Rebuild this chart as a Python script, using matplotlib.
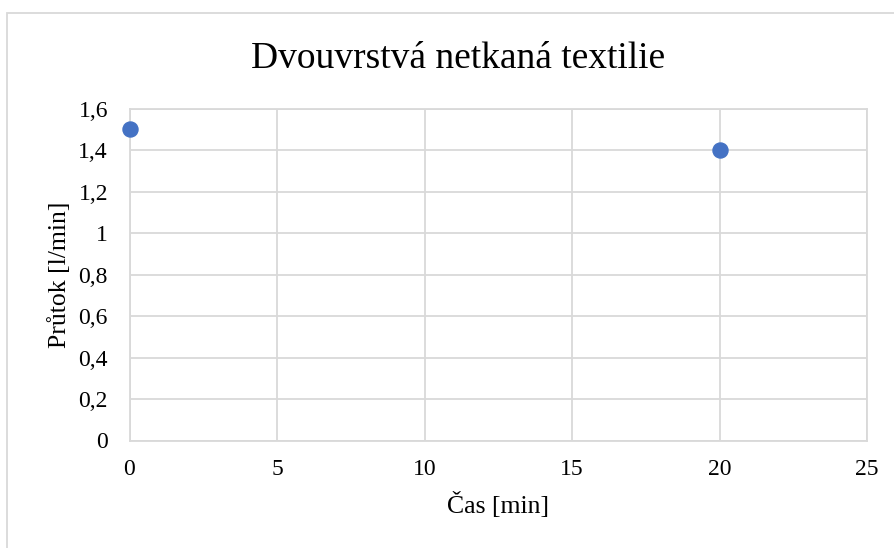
import matplotlib
matplotlib.use("Agg")
import matplotlib.pyplot as plt
from matplotlib.patches import Rectangle
from matplotlib.ticker import FuncFormatter

cas = [0, 20]
prutok = [1.5, 1.4]
x_ticks = [0, 5, 10, 15, 20, 25]
y_ticks = [0, 0.2, 0.4, 0.6, 0.8, 1.0, 1.2, 1.4, 1.6]
title = "Dvouvrstvá netkaná textilie"
xlabel = "Čas [min]"
ylabel = "Průtok [l/min]"

plt.rcParams['font.family'] = ['Liberation Serif', 'DejaVu Serif']

fig = plt.figure(figsize=(8.94, 5.48), dpi=100)
# outer chart border (light gray)
fig.patches.append(Rectangle((7/894, -0.1), 2.0, 1 - 13/548 + 0.1, transform=fig.transFigure,
                             fill=False, edgecolor='#d9d9d9', linewidth=1.3))
ax = fig.add_axes([129.5/894, 1 - 440.5/548, (867 - 129.5)/894, (440.5 - 108.7)/548])

ax.scatter(cas, prutok, s=117, color='#4472c4', zorder=3, clip_on=False)
ax.set_xlim(0, 25)
ax.set_ylim(0, 1.6)
ax.set_xticks(x_ticks)
ax.set_yticks(y_ticks)

def fmt(v, pos):
    s = ('%g' % round(v, 2))
    return s.replace('.', ',')

ax.yaxis.set_major_formatter(FuncFormatter(fmt))
ax.xaxis.set_major_formatter(FuncFormatter(fmt))
ax.grid(True, color='#d9d9d9', linewidth=1.3)
ax.set_axisbelow(True)
for sp in ax.spines.values():
    sp.set_color('#d9d9d9')
    sp.set_linewidth(1.3)
ax.tick_params(length=0, labelsize=17, colors='black')
ax.tick_params(axis='x', pad=13.5)
ax.tick_params(axis='y', pad=15.5)
fig.text(458/894, 1 - 68/548, title, fontsize=27, ha='center', va='baseline')
ax.set_xlabel(xlabel, fontsize=18.5, labelpad=8.5)
ax.set_ylabel(ylabel, fontsize=18.5, labelpad=5)

fig.savefig("out.png", dpi=100)
